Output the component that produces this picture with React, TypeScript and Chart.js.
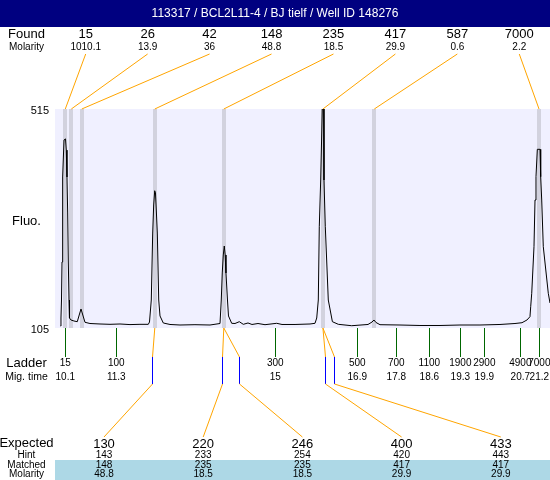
import React, { useEffect, useRef } from "react";
import { Chart, registerables } from "chart.js";

Chart.register(...registerables);

const TITLE = "113317 / BCL2L11-4 / BJ tielf / Well ID 148276";

// Electropherogram trace: migration time (s) vs fluorescence
const traceTime = [
  9.988, 9.999, 10.011, 10.023, 10.03, 10.046, 10.07, 10.105, 10.123, 10.14,
  10.156, 10.17, 10.187, 10.198, 10.233, 10.304, 10.381, 10.433, 10.468, 10.503,
  10.561, 10.678, 10.913, 11.147, 11.381, 11.615, 11.849, 12.044, 12.072, 12.114,
  12.147, 12.17, 12.194, 12.212, 12.231, 12.255, 12.288, 12.318, 12.395, 12.552,
  12.786, 13.137, 13.489, 13.723, 13.753, 13.776, 13.8, 13.823, 13.844, 13.863,
  13.898, 13.922, 13.997, 14.074, 14.175, 14.269, 14.379, 14.472, 14.613, 14.777,
  15.051, 15.175, 15.48, 15.831, 15.948, 15.988, 16.025, 16.048, 16.081, 16.107,
  16.118, 16.151, 16.158, 16.189, 16.259, 16.355, 16.494, 16.807, 17.189, 17.283,
  17.329, 17.376, 17.47, 17.938, 18.406, 18.875, 19.343, 19.811, 20.28, 20.631,
  20.795, 20.912, 20.982, 20.999, 21.023, 21.076, 21.1, 21.123, 21.154, 21.217,
  21.233, 21.257, 21.294, 21.411, 21.451,
];
const traceFluo = [
  108.7, 123.7, 157.4, 228.6, 320.3, 387.7, 457, 459, 438, 387.7,
  320.3, 232.3, 157.4, 123.7, 120, 118.1, 116.8, 131.2, 140.6, 131.2,
  115.7, 113.4, 112.5, 111.9, 112.5, 111.4, 111.9, 111.9, 116.2, 157.4,
  282.8, 335.3, 362, 357.7, 325.9, 282.8, 157.4, 127.5, 114.4, 111.6,
  110.6, 111.2, 110.6, 113.4, 157.4, 208, 241.7, 258.5, 241.7, 208,
  157.4, 127.5, 113.8, 113.4, 116.8, 111.9, 114.4, 111.6, 113.4, 111.2,
  113.8, 111.6, 111.6, 112.5, 113.8, 123.7, 157.4, 294.6, 382.1, 475.7,
  515, 515, 382.1, 294.6, 157.4, 116.8, 111.9, 109.3, 111.6, 116.2,
  120, 115.3, 111.2, 110.6, 109.7, 109.7, 110.6, 110.6, 111.6, 113.4,
  114.9, 120, 126.2, 144.9, 170, 257.2, 344.6, 388.2, 439.5, 439.5,
  388.2, 344.6, 257.2, 170, 151.8,
];

// Found peaks
const foundSizes = ["15", "26", "42", "148", "235", "417", "587", "7000"];
const foundMolarity = ["1010.1", "13.9", "36", "48.8", "18.5", "29.9", "0.6", "2.2"];
const foundTimes = [10.1, 10.241, 10.486, 12.196, 13.812, 16.133, 17.336, 21.194];

// Ladder
const ladderSizes = ["15", "100", "300", "500", "700", "1100", "1900", "2900", "4900", "7000"];
const ladderTimeLabels = ["10.1", "11.3", "15", "16.9", "17.8", "18.6", "19.3", "19.9", "20.7", "21.2"];
const ladderTimes = [10.1, 11.294, 15.018, 16.938, 17.852, 18.625, 19.351, 19.913, 20.756, 21.201];

// Expected table
const expectedSizes = ["130", "220", "246", "400", "433"];
const hintSizes = ["143", "233", "254", "420", "443"];
const hintTimes = [12.123, 13.777, 14.175, 16.189, 16.4];
const matchedSizes = ["148", "235", "235", "417", "417"];
const matchedMolarity = ["48.8", "18.5", "18.5", "29.9", "29.9"];
const matchedPeakIndex = [3, 4, 4, 5, 5];

const yTickValues = [515, 105];
const Y_MIN = 105;
const Y_MAX = 515;
const X_MIN = 9.859;
const X_MAX = 21.451;

const FONT = '"Liberation Sans", Arial, Helvetica, sans-serif';
const ORANGE = "#FFA500";
const BLUE = "#0000FF";
const GREEN = "#006600";

const decorPlugin = {
  id: "decor",
  beforeDraw(chart: any) {
    const { ctx, chartArea: a } = chart;
    const xs = chart.scales.x;
    const W = chart.width;
    ctx.save();
    ctx.fillStyle = "#FFFFFF";
    ctx.fillRect(0, 0, W, chart.height);
    // title bar
    ctx.fillStyle = "#000080";
    ctx.fillRect(0, 0, W, 27);
    ctx.fillStyle = "#FFFFFF";
    ctx.font = `12px ${FONT}`;
    ctx.textAlign = "center";
    ctx.textBaseline = "middle";
    ctx.fillText(TITLE, W / 2, 14);
    // plot background
    ctx.fillStyle = "#F0F0FF";
    ctx.fillRect(a.left, a.top, a.right - a.left, a.bottom - a.top);
    // peak bands
    ctx.fillStyle = "#D2D2DE";
    foundTimes.forEach((t) => {
      const px = Math.round(xs.getPixelForValue(t));
      ctx.fillRect(px - 2, a.top, 4, a.bottom - a.top);
    });
    // matched rows band
    ctx.fillStyle = "#ADD8E6";
    ctx.fillRect(55, 460, W - 55, 20);
    ctx.restore();
  },
  afterDraw(chart: any) {
    const { ctx, chartArea: a } = chart;
    const xs = chart.scales.x;
    const ys = chart.scales.y;
    ctx.save();
    const txt = (s: string, x: number, y: number, size: number, align: CanvasTextAlign = "center") => {
      ctx.font = `${size}px ${FONT}`;
      ctx.textAlign = align;
      ctx.textBaseline = "middle";
      ctx.fillStyle = "#000";
      ctx.fillText(s, x, y);
    };
    const line = (x1: number, y1: number, x2: number, y2: number, c: string) => {
      ctx.strokeStyle = c;
      ctx.lineWidth = 1;
      ctx.beginPath();
      ctx.moveTo(x1, y1);
      ctx.lineTo(x2, y2);
      ctx.stroke();
    };
    const vline = (x: number, y1: number, y2: number, c: string) => {
      const px = Math.round(x) + 0.5;
      line(px, y1, px, y2, c);
    };
    const labelCx = 26.5;

    // Found header
    txt("Found", labelCx, 34, 13);
    txt("Molarity", labelCx, 47, 10);
    foundSizes.forEach((s, i) => {
      const cx = 85.7 + 61.94 * i;
      txt(s, cx, 34, 13);
      txt(foundMolarity[i], cx, 47, 10);
      line(cx, 54, xs.getPixelForValue(foundTimes[i]), a.top, ORANGE);
    });

    // Y axis labels
    yTickValues.forEach((v) => txt(String(v), 49, ys.getPixelForValue(v) + 2, 11, "right"));
    txt("Fluo.", labelCx, 221, 13);

    // Ladder
    txt("Ladder", labelCx, 363, 13);
    txt("Mig. time", labelCx, 377, 10.5);
    ladderSizes.forEach((s, i) => {
      const px = xs.getPixelForValue(ladderTimes[i]);
      vline(px, a.bottom, 357, GREEN);
      txt(s, px, 363, 10);
      txt(ladderTimeLabels[i], px, 377, 10);
    });

    // Expected table
    txt("Expected", labelCx, 443.5, 13);
    txt("Hint", labelCx, 455, 10);
    txt("Matched", labelCx, 465.5, 10);
    txt("Molarity", labelCx, 474.5, 10);
    expectedSizes.forEach((s, i) => {
      const cx = 104 + 99.2 * i;
      const pk = xs.getPixelForValue(foundTimes[matchedPeakIndex[i]]);
      const hb = Math.round(xs.getPixelForValue(hintTimes[i])) + 0.5;
      line(pk, a.bottom, hb, 357, ORANGE);
      line(hb, 357, hb, 384, BLUE);
      line(hb, 384, cx, 437, ORANGE);
      txt(s, cx, 444, 13);
      txt(hintSizes[i], cx, 455, 10);
      txt(matchedSizes[i], cx, 465.5, 10);
      txt(matchedMolarity[i], cx, 474.5, 10);
    });
    ctx.restore();
  },
};

export default function App() {
  const ref = useRef<HTMLCanvasElement>(null);
  useEffect(() => {
    document.body.style.margin = "0";
    const chart = new Chart(ref.current as HTMLCanvasElement, {
      type: "line",
      data: {
        datasets: [
          {
            data: traceTime.map((t, i) => ({ x: t, y: traceFluo[i] })),
            borderColor: "#000000",
            borderWidth: 1,
            pointRadius: 0,
            tension: 0,
            fill: false,
          },
        ],
      },
      options: {
        animation: false,
        responsive: false,
        devicePixelRatio: 1,
        events: [],
        layout: { padding: { left: 55, top: 109, right: 0, bottom: 152 } },
        scales: {
          x: { type: "linear", min: X_MIN, max: X_MAX, display: false },
          y: { type: "linear", min: Y_MIN, max: Y_MAX, display: false },
        },
        plugins: { legend: { display: false }, tooltip: { enabled: false } },
      },
      plugins: [decorPlugin],
    });
    return () => chart.destroy();
  }, []);
  return (
    <div style={{ width: 550, height: 480 }}>
      <canvas ref={ref} width={550} height={480} style={{ display: "block" }} />
    </div>
  );
}
